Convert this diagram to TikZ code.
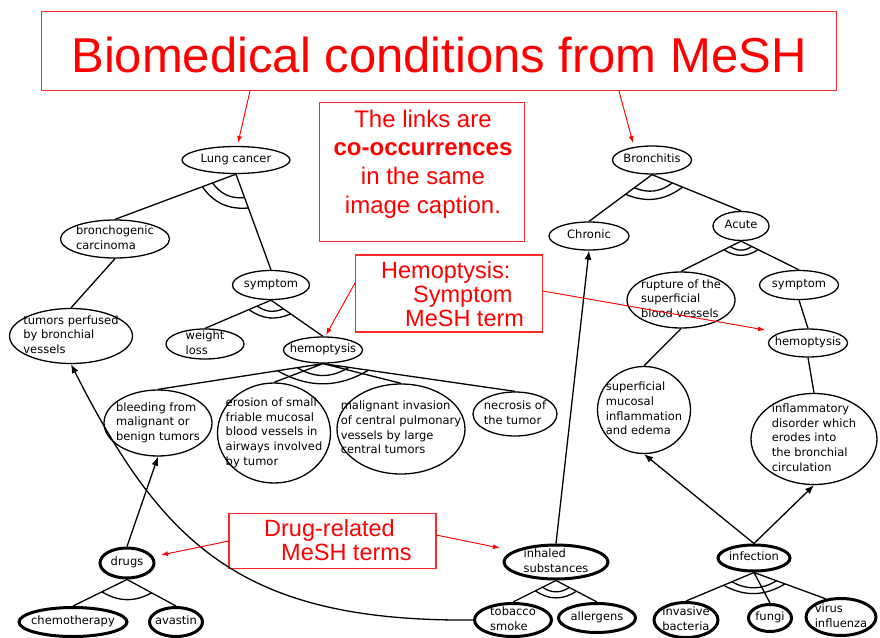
\documentclass[tikz,border=0pt]{standalone}
\usepackage{fontspec}
\setmainfont{DejaVu Sans}
\newfontfamily\arialf{Liberation Sans}
\usetikzlibrary{shapes.geometric,calc,arrows.meta}
\definecolor{boxred}{RGB}{255,40,40}
\newcommand\nodefnt{\fontsize{11.5}{14.7}\selectfont}
\newcommand\ct[1]{\smash{\makebox[0pt]{\raisebox{-0.25em}{\begin{tabular}[c]{@{}l@{}}#1\end{tabular}}}}}
\newcommand\andarc[5]{\draw[ed] ($(#1)!#4pt!(#2)$) to[bend right=#5] ($(#1)!#4pt!(#3)$);}
\tikzset{
  el/.style={ellipse,draw,line width=1.3pt,inner sep=0pt,font=\nodefnt},
  tk/.style={el,line width=3pt},
  sz/.style 2 args={minimum width=#1pt,minimum height=#2pt},
  ed/.style={line width=1.3pt},
  ar/.style={ed,-{Latex[length=9pt,width=7pt]}},
  rbox/.style={draw=boxred,line width=1.1pt,rectangle,inner sep=0pt},
  rt/.style={text=red,anchor=base west,inner sep=0pt},
  rar/.style={draw=red,fill=red,line width=0.9pt,-{Latex[length=7pt,width=5pt]}},
}
\begin{document}
\begin{tikzpicture}[x=1pt,y=-1pt]
\useasboundingbox (0,0) rectangle (880,637);
% ---------- red annotation boxes ----------
\node[rbox,minimum width=795pt,minimum height=79pt] (tbox) at (439,51) {};
\node[text=red,font=\arialf\fontsize{49}{55}\selectfont,anchor=base,inner sep=0pt] (ttl) at (439,72) {Biomedical conditions from MeSH};
\node[rbox,minimum width=205pt,minimum height=139pt] (lbox) at (422,172) {};
\node[text=red,font=\arialf\fontsize{24}{28}\selectfont,anchor=base,inner sep=0pt] (l1) at (423,127) {The links are};
\node[text=red,font=\arialf\bfseries\fontsize{24}{28}\selectfont,anchor=base,inner sep=0pt] (l2) at (423,155) {co-occurrences};
\node[text=red,font=\arialf\fontsize{24}{28}\selectfont,anchor=base,inner sep=0pt] (l3) at (423,184) {in the same};
\node[text=red,font=\arialf\fontsize{24}{28}\selectfont,anchor=base,inner sep=0pt] (l4) at (423,213) {image caption.};
\node[rbox,minimum width=187pt,minimum height=77pt] (hbox) at (449,293.5) {};
\node[rt,font=\arialf\fontsize{23.5}{28}\selectfont] (h1t) at (381,278) {Hemoptysis:};
\node[rt,font=\arialf\fontsize{23.5}{28}\selectfont] (h2t) at (413,302) {Symptom};
\node[rt,font=\arialf\fontsize{23.5}{28}\selectfont] (h3t) at (405,326) {MeSH term};
\node[rbox,minimum width=207pt,minimum height=55pt] (dbox) at (332.5,541) {};
\node[rt,font=\arialf\fontsize{23.5}{28}\selectfont] (d1t) at (264,536) {Drug-related};
\node[rt,font=\arialf\fontsize{23.5}{28}\selectfont] (d2t) at (281,560) {MeSH terms};
% ---------- concept nodes ----------
\node[el,sz={108}{27}] (lc) at (236,160) {\ct{Lung cancer}};
\node[el,sz={79}{28}] (br) at (652,160) {\ct{Bronchitis}};
\node[el,sz={109}{38}] (bc) at (115,239) {\ct{bronchogenic\\carcinoma}};
\node[el,sz={77}{29}] (s1) at (271,285) {\ct{symptom}};
\node[el,sz={123}{55}] (tp) at (71,336) {\ct{tumors perfused\\by bronchial\\vessels}};
\node[el,sz={78}{30}] (wl) at (205,344) {\ct{weight\\loss}};
\node[el,sz={79}{26}] (h1) at (323,350) {\ct{hemoptysis}};
\node[el,sz={108}{66}] (bl) at (158,423) {\ct{bleeding from\\malignant or\\benign tumors}};
\node[el,sz={113}{100}] (er) at (274,433) {\ct{erosion of small\\friable mucosal\\blood vessels in\\airways involved\\by tumor}};
\node[el,sz={128}{90}] (mi) at (401,429) {\ct{malignant invasion\\of central pulmonary\\vessels by large\\central tumors}};
\node[el,sz={84}{44}] (ne) at (515,414) {\ct{necrosis of\\the tumor}};
\node[el,sz={80}{28}] (ch) at (589,236) {\ct{Chronic}};
\node[el,sz={56}{29}] (ac) at (741,226) {\ct{Acute}};
\node[el,sz={108}{56}] (ru) at (681,300) {\ct{rupture of the\\superficial\\blood vessels}};
\node[el,sz={79}{29}] (s2) at (799,285) {\ct{symptom}};
\node[el,sz={79}{28}] (h2) at (808,343) {\ct{hemoptysis}};
\node[el,sz={93}{87}] (sm) at (644,410) {\ct{superficial\\mucosal\\inflammation\\and edema}};
\node[el,sz={126}{91}] (in) at (814,439) {\ct{inflammatory\\disorder which\\erodes into\\the bronchial\\circulation}};
\node[tk,sz={54}{30}] (dr) at (127,563) {\ct{drugs}};
\node[tk,sz={108}{29}] (cm) at (73,622) {\ct{chemotherapy}};
\node[tk,sz={53}{29}] (av) at (176,622) {\ct{avastin}};
\node[tk,sz={104}{34}] (is) at (556,562) {\ct{inhaled\\substances}};
\node[tk,sz={77}{33}] (ts) at (513,620) {\ct{tobacco\\smoke}};
\node[tk,sz={77}{29}] (al) at (597,618) {\ct{allergens}};
\node[tk,sz={72}{26}] (if) at (754,558) {\ct{infection}};
\node[tk,sz={64}{35}] (ib) at (686,620) {\ct{invasive\\bacteria}};
\node[tk,sz={43}{27}] (fu) at (770,618) {\ct{fungi}};
\node[tk,sz={70}{37}] (vi) at (841,617) {\ct{virus\\influenza}};
% ---------- links ----------
\draw[ed] (lc.south) -- (bc.north) (lc.south) -- (s1.north);
\andarc{lc.south}{bc.north}{s1.north}{25}{30}
\andarc{lc.south}{bc.north}{s1.north}{36}{30}
\draw[ed] (bc.south) -- (tp.north);
\draw[ed] (s1.south) -- (wl.north) (s1.south) -- (h1.north);
\andarc{s1.south}{wl.north}{h1.north}{15}{30}
\andarc{s1.south}{wl.north}{h1.north}{24}{30}
\draw[ed] (h1.south) -- (bl.north) (h1.south) -- (er.north) (h1.south) -- (mi.north) (h1.south) -- (ne.north);
\andarc{h1.south}{bl.north}{ne.north}{26}{32}
\andarc{h1.south}{bl.north}{ne.north}{46}{30}
\draw[ed] (br.south) -- (ch.north) (br.south) -- (ac.north);
\andarc{br.south}{ch.north}{ac.north}{22}{30}
\andarc{br.south}{ch.north}{ac.north}{33}{30}
\draw[ed] (ac.south) -- (ru.north) (ac.south) -- (s2.north);
\andarc{ac.south}{ru.north}{s2.north}{12}{35}
\andarc{ac.south}{ru.north}{s2.north}{19}{35}
\draw[ed] (ru.south) -- (sm.north);
\draw[ed] (s2.south) -- (h2.north);
\draw[ed] (h2.south) -- (in.north);
\draw[ed] (dr.south) -- (cm.north) (dr.south) -- (av.north);
\andarc{dr.south}{cm.north}{av.north}{28}{30}
\draw[ed] (is.south) -- (ts.north) (is.south) -- (al.north);
\andarc{is.south}{ts.north}{al.north}{15}{35}
\andarc{is.south}{ts.north}{al.north}{23}{35}
\draw[ed] (if.south) -- (ib.north) (if.south) -- (fu.north) (if.south) -- (vi.130);
\andarc{if.south}{ib.north}{vi.130}{24}{30}
\andarc{if.south}{ib.north}{vi.130}{33}{30}
% ---------- arrows ----------
\draw[ar] (dr.north) -- (bl.south);
\draw[ar] (is.north) -- (ch.south);
\draw[ar] (if.north) -- (sm.south);
\draw[ar] (if.north) -- (in.south);
\draw[ar] (ts.west) .. controls (243,622) and (163,546) .. (tp.south);
% ---------- red pointers ----------
\coordinate (ta) at (250,91);
\coordinate (tae) at (238,143);
\coordinate (tb) at (619,91);
\coordinate (tbe) at (633,143);
\coordinate (ha) at (355,283);
\coordinate (hae) at (326,335);
\coordinate (hb) at (543,291);
\coordinate (hbe) at (765,330);
\coordinate (da) at (229,541);
\coordinate (dae) at (161,555);
\coordinate (db) at (436,535);
\coordinate (dbe) at (500,548);
\draw[rar] (ta) -- (tae);
\draw[rar] (tb) -- (tbe);
\draw[rar] (ha) -- (hae);
\draw[rar] (hb) -- (hbe);
\draw[rar] (da) -- (dae);
\draw[rar] (db) -- (dbe);
\end{tikzpicture}
\end{document}
